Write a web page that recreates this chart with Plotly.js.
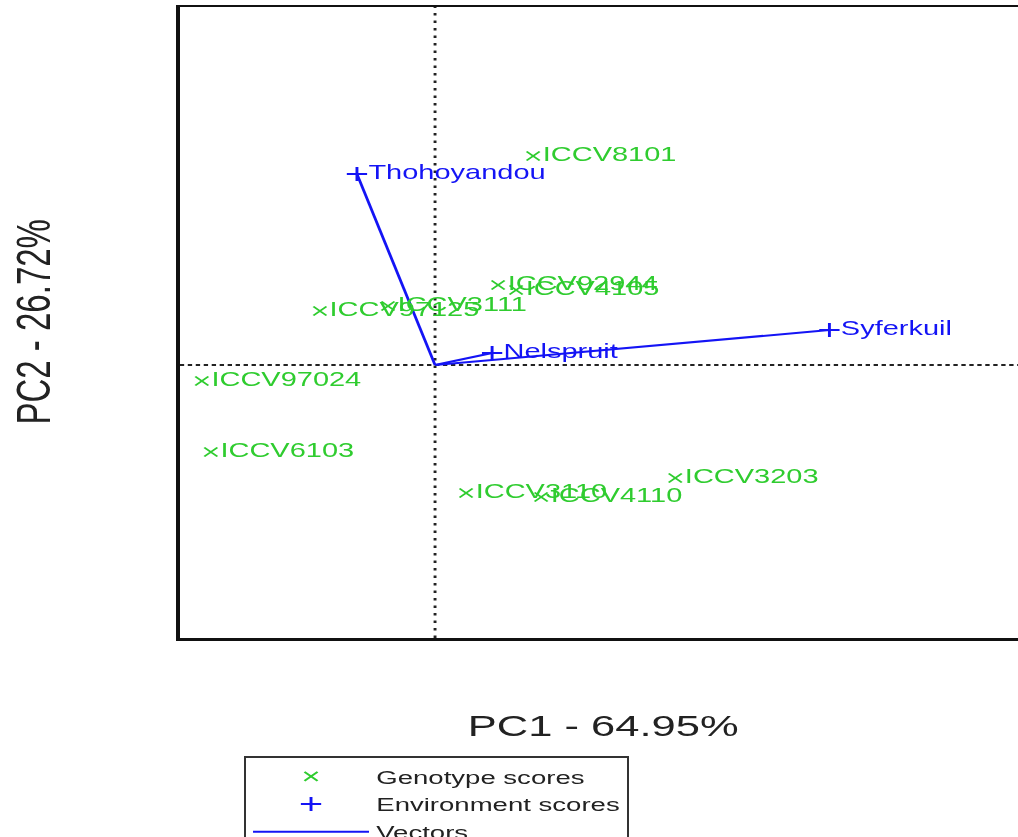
<!DOCTYPE html>
<html>
<head>
<meta charset="utf-8">
<script src="https://cdn.plot.ly/plotly-3.0.1.min.js"></script>
<style>
  html, body { margin: 0; padding: 0; overflow: hidden; background: #ffffff; }
  #chart { width: 720px; height: 837px; transform-origin: 0 0; }
  #chart.wide { transform: scaleX(1.45); filter: blur(0.4px); }
</style>
</head>
<body>
<div id="chart"></div>
<script>
// Genotype scores on the first two principal components
const genotypes = ['ICCV8101', 'ICCV92944', 'ICCV4105', 'ICCV97125', 'ICCV3111',
                   'ICCV97024', 'ICCV6103', 'ICCV3110', 'ICCV4110', 'ICCV3203'];
const genoPC1 = [0.98, 0.63, 0.81, -1.15, -0.47, -2.33, -2.24, 0.31, 1.06, 2.40];
const genoPC2 = [2.09, 0.80, 0.75, 0.54, 0.59, -0.16, -0.87, -1.28, -1.32, -1.13];

// Environment scores
const environments = ['Thohoyandou', 'Syferkuil', 'Nelspruit'];
const envPC1 = [-0.78, 3.94, 0.57];
const envPC2 = [1.91, 0.35, 0.12];

const axisTitles = { x: 'PC1 - 64.95%', y: 'PC2 - 26.72%' };
const seriesNames = ['Genotype scores', 'Environment scores', 'Vectors'];

const GREEN = '#2fcc2f';
const BLUE = '#1414f5';
const FONT = 'Liberation Sans, Arial, Helvetica, sans-serif';

// Vectors from the origin to each environment
const vecX = [], vecY = [];
envPC1.forEach((v, i) => { vecX.push(0, v, null); vecY.push(0, envPC2[i], null); });

const traces = [
  {
    x: vecX, y: vecY, mode: 'lines', name: seriesNames[2], legendrank: 3,
    line: { color: BLUE, width: 2 }, hoverinfo: 'skip'
  },
  {
    x: genoPC1, y: genoPC2, text: genotypes, mode: 'markers+text', showlegend: false,
    textposition: 'middle right', textfont: { family: FONT, size: 20, color: GREEN },
    marker: { symbol: 'x-thin-open', size: 9, opacity: 0, color: GREEN, line: { color: GREEN, width: 1.5 } },
    hoverinfo: 'skip'
  },
  {
    x: genoPC1, y: genoPC2, mode: 'markers', name: seriesNames[0], legendrank: 1,
    marker: { symbol: 'x-thin-open', size: 9, color: GREEN, line: { color: GREEN, width: 1.6 } }
  },
  {
    x: envPC1, y: envPC2, text: environments, mode: 'markers+text', showlegend: false,
    textposition: 'middle right', textfont: { family: FONT, size: 20, color: BLUE },
    marker: { symbol: 'cross-thin-open', size: 11, opacity: 0, color: BLUE, line: { color: BLUE, width: 2 } },
    hoverinfo: 'skip'
  },
  {
    x: envPC1, y: envPC2, mode: 'markers', name: seriesNames[1], legendrank: 2,
    marker: { symbol: 'cross-thin-open', size: 10, color: BLUE, line: { color: BLUE, width: 2 } }
  }
];

const W = 720, H = 837;
const M = { l: 124, r: 12, t: 7, b: 199 };
const plotW = W - M.l - M.r;

const layout = {
  width: W, height: H,
  margin: Object.assign({ autoexpand: false }, M),
  paper_bgcolor: '#ffffff', plot_bgcolor: '#ffffff',
  font: { family: FONT, color: '#222222' },
  showlegend: true,
  xaxis: {
    range: [-2.55, 5.91], showline: true, mirror: true, linecolor: '#111111', linewidth: 2.5,
    showgrid: false, zeroline: false, showticklabels: false, ticks: '',
    automargin: false,
    title: { text: axisTitles.x, font: { family: FONT, size: 30, color: '#222222' }, standoff: 76 }
  },
  yaxis: {
    range: [-2.73, 3.58], showline: true, mirror: true, linecolor: '#111111', linewidth: 2.5,
    showgrid: false, zeroline: false, showticklabels: false, ticks: '',
    automargin: false
  },
  // vertical axis title, set out in the left margin
  annotations: [
    { text: axisTitles.y, xref: 'paper', yref: 'paper', x: (23 - M.l) / plotW, y: 0.5,
      xanchor: 'center', yanchor: 'middle', textangle: -90, showarrow: false,
      font: { family: FONT, size: 33, color: '#222222' } }
  ],
  shapes: [
    { type: 'line', layer: 'below', xref: 'x', yref: 'paper', x0: 0, x1: 0, y0: 0, y1: 1,
      line: { color: '#222222', width: 2, dash: '2.5px,5px' } },
    { type: 'line', layer: 'below', xref: 'paper', yref: 'y', x0: 0, x1: 1, y0: 0, y1: 0,
      line: { color: '#222222', width: 2, dash: '3px,2.5px' } }
  ],
  legend: {
    xref: 'container', yref: 'container',
    x: 168 / W, y: (H - 756) / H, xanchor: 'left', yanchor: 'top',
    bgcolor: '#ffffff', bordercolor: '#333333', borderwidth: 1.5,
    font: { family: FONT, size: 19, color: '#222222' },
    itemwidth: 80, tracegroupgap: 0
  }
};

// Lay the figure out at its natural width, then widen it horizontally
Plotly.newPlot('chart', traces, layout, { staticPlot: true, displayModeBar: false })
  .then(gd => { gd.classList.add('wide'); });
</script>
</body>
</html>
